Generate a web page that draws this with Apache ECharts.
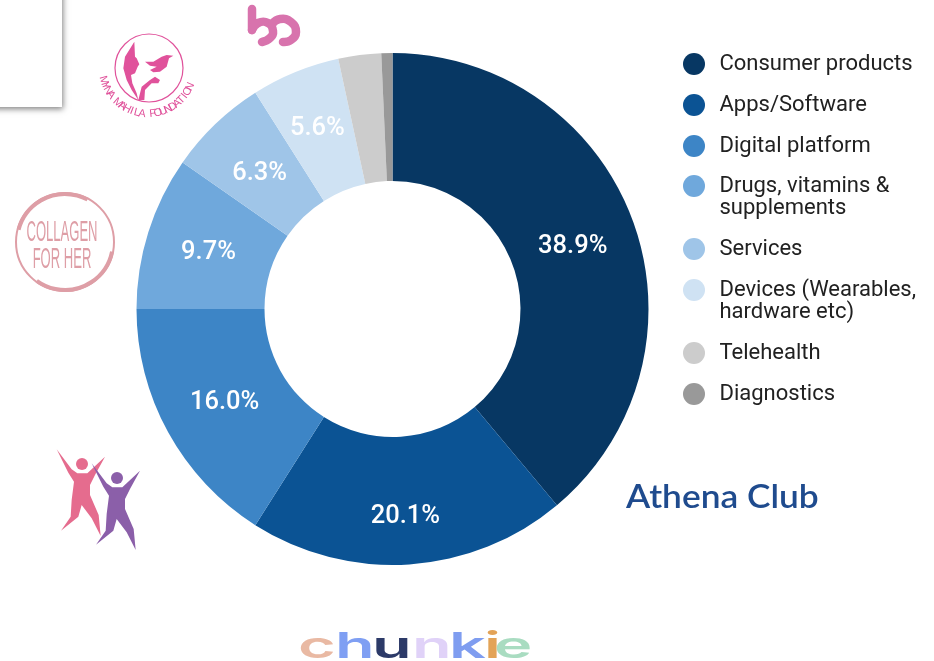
<!DOCTYPE html>
<html>
<head>
<meta charset="utf-8">
<title>Sector breakdown</title>
<style>
  html, body { margin: 0; padding: 0; background: #fff; }
  #chart { width: 934px; height: 661px; }
</style>
<script src="https://cdn.jsdelivr.net/npm/echarts@6/dist/echarts.min.js"></script>
</head>
<body>
<div id="chart"></div>
<script>
var categories = ['Consumer products', 'Apps/Software', 'Digital platform', 'Drugs, vitamins &\nsupplements',
    'Services', 'Devices (Wearables,\nhardware etc)', 'Telehealth', 'Diagnostics'];
var shares = [38.9, 20.1, 16.0, 9.7, 6.3, 5.6, 2.7, 0.7];
var colors = ['#073763', '#0b5394', '#3d85c6', '#6fa8dc', '#9fc5e8', '#cfe2f3', '#cccccc', '#999999'];
var hiddenLabels = ['Telehealth', 'Diagnostics'];
// the source labels do not sit exactly mid-ring
var labelNudges = [[-3, 4], [0, 13], [3, 0], [2, 2], [2, 6], [-1, 0], [0, 0], [0, 0]];
// vertical step from each legend row to the next
var legendSteps = [41, 41, 40, 63, 41, 63, 41, 0];

var chunkieLetters = ['c', 'h', 'u', 'n', 'k', 'i', 'e'];
var chunkieColors = ['#e9b9a3', '#7f9ff3', '#2c3a68', '#e0d2f8', '#7f9df0', '#e3a357', '#a9dcc1'];
var chunkieLefts = [298, 335, 372, 412, 449, 484, 494];

var chart = echarts.init(document.getElementById('chart'), null, { renderer: 'canvas' });

// one legend per entry, the wrapped names need uneven row steps
var legends = [];
var rowY = 63;
categories.forEach(function (name, i) {
    var wrapped = name.indexOf('\n') !== -1;
    legends.push({
        data: [name],
        left: 678,
        // blank first line keeps the dot level with the first text line
        top: wrapped ? rowY - 37 : rowY - 15,
        orient: 'vertical',
        icon: 'circle',
        itemWidth: 33,
        itemHeight: 22,
        itemGap: 0,
        selectedMode: false,
        formatter: function (n) { return n.indexOf('\n') !== -1 ? '\n' + n : n; },
        textStyle: { fontFamily: 'Roboto', fontSize: 22, lineHeight: 22, color: '#212121', padding: [0, 0, 0, 4] }
    });
    rowY += legendSteps[i];
});

// logos around the chart
var logos = [];

// blank card in the corner
logos.push({
    type: 'rect',
    shape: { x: -10, y: -10, width: 72, height: 117 },
    style: { fill: '#fff', shadowBlur: 6, shadowColor: 'rgba(0,0,0,0.5)', shadowOffsetX: 1, shadowOffsetY: 2 }
});

// "b" mark
var MARK = '#d873ad';
[
    [[252, 9], [252, 30]],
    [[252, 30], [258, 23], [268, 23], [273, 31], [270, 38], [262, 42]],
    [[272, 24], [280, 19], [291, 22], [296, 32], [291, 40], [283, 42]]
].forEach(function (pts) {
    logos.push({
        type: 'polyline',
        shape: { points: pts, smooth: pts.length > 2 ? 0.5 : 0 },
        style: { stroke: MARK, lineWidth: 8.5, fill: null, lineCap: 'round', lineJoin: 'round' }
    });
});

// foundation seal
var MYNA = '#e0529b';
function myna(pts) {
    return pts.map(function (p) { return [95 + p[0] / 3, 25 + p[1] / 3]; });
}
logos.push({
    type: 'circle',
    shape: { cx: 149, cy: 68, r: 34 },
    style: { fill: null, stroke: MYNA, lineWidth: 1.2 }
});
logos.push({
    type: 'polygon',
    shape: { points: myna([[118, 50], [120, 95], [125, 100], [133, 118], [128, 125], [120, 145], [108, 150], [112, 175], [125, 205], [130, 225], [110, 195], [95, 165], [85, 130], [90, 95]]) },
    style: { fill: MYNA }
});
logos.push({
    type: 'polygon',
    shape: { points: myna([[150, 110], [175, 110], [200, 95], [215, 90], [235, 92], [222, 100], [215, 125], [195, 140], [175, 142], [165, 135], [185, 125], [165, 122]]) },
    style: { fill: MYNA }
});
logos.push({
    type: 'polygon',
    shape: { points: myna([[130, 225], [140, 185], [165, 165], [180, 155], [195, 165], [190, 175], [170, 175], [150, 195], [148, 225]]) },
    style: { fill: MYNA }
});
var mynaText = 'MYNA MAHILA FOUNDATION'.split('');
mynaText.forEach(function (ch, i) {
    var a = (-74 + i * 140 / (mynaText.length - 1)) * Math.PI / 180;
    logos.push({
        type: 'text',
        x: 148 + 46 * Math.sin(a),
        y: 68 + 46 * Math.cos(a),
        rotation: a,
        style: { text: ch, fontFamily: 'Liberation Sans', fontSize: 11, fill: MYNA, align: 'center', verticalAlign: 'middle' }
    });
});

// brush ring
var COLLAGEN = '#de9ea6';
logos.push({
    type: 'circle',
    shape: { cx: 65, cy: 242, r: 49 },
    style: { fill: null, stroke: COLLAGEN, lineWidth: 2 }
});
logos.push({
    type: 'arc',
    shape: { cx: 65, cy: 242, r: 48, startAngle: 3.4, endAngle: 5.2 },
    style: { fill: null, stroke: COLLAGEN, lineWidth: 4 }
});
logos.push({
    type: 'arc',
    shape: { cx: 65, cy: 242, r: 48, startAngle: 0.2, endAngle: 2.2 },
    style: { fill: null, stroke: COLLAGEN, lineWidth: 4 }
});
logos.push({
    type: 'text', x: 62, y: 233, scaleX: 0.45,
    style: { text: 'COLLAGEN', fontFamily: 'Liberation Sans', fontSize: 29, fill: COLLAGEN, align: 'center', verticalAlign: 'middle' }
});
logos.push({
    type: 'text', x: 62, y: 260, scaleX: 0.45,
    style: { text: 'FOR HER', fontFamily: 'Liberation Sans', fontSize: 29, fill: COLLAGEN, align: 'center', verticalAlign: 'middle' }
});

// two jumping figures
var dancer = [[170, 808], [215, 868], [232, 880], [262, 880], [315, 830], [285, 885], [270, 915], [270, 945], [296, 1005], [302, 1068], [275, 1015], [245, 975], [235, 1010], [183, 1052], [212, 1010], [215, 960], [222, 905], [205, 878]];
[{ dx: 0, dy: 0, fill: '#e56c8e' }, { dx: 105, dy: 42, fill: '#8b5fa9' }].forEach(function (f) {
    logos.push({
        type: 'polygon',
        shape: { points: dancer.map(function (p) { return [(p[0] + f.dx) / 3, 180 + (p[1] + f.dy) / 3]; }) },
        style: { fill: f.fill }
    });
    logos.push({
        type: 'circle',
        shape: { cx: (246 + f.dx) / 3, cy: 180 + (852 + f.dy) / 3, r: 6 },
        style: { fill: f.fill }
    });
});

logos.push({
    type: 'text', x: 626, y: 497, scaleX: 1.07,
    style: { text: 'Athena Club', fontFamily: 'Lato', fontWeight: 600, fontSize: 33, fill: '#1f4b8e', align: 'left', verticalAlign: 'middle' }
});

chunkieLetters.forEach(function (ch, i) {
    logos.push({
        type: 'text', x: chunkieLefts[i], y: 665, scaleX: 1.8,
        style: { text: ch, fontFamily: 'Inter', fontWeight: 600, fontSize: 36, fill: chunkieColors[i], align: 'left', verticalAlign: 'bottom' }
    });
});

chart.setOption({
    backgroundColor: '#fff',
    animation: false,
    legend: legends,
    series: [{
        type: 'pie',
        center: [392.5, 309],
        radius: [128, 256],
        startAngle: 90,
        clockwise: true,
        avoidLabelOverlap: false,
        label: {
            show: true,
            position: 'inside',
            fontFamily: 'Roboto',
            fontWeight: 500,
            fontSize: 25.5,
            color: '#fff',
            formatter: function (p) { return p.value.toFixed(1) + '%'; }
        },
        labelLine: { show: false },
        emphasis: { disabled: true },
        data: categories.map(function (name, i) {
            return {
                name: name,
                value: shares[i],
                itemStyle: { color: colors[i] },
                label: { show: hiddenLabels.indexOf(name) === -1, offset: labelNudges[i] }
            };
        })
    }],
    graphic: { elements: logos }
});

window.addEventListener('resize', function () { chart.resize(); });
</script>
</body>
</html>
